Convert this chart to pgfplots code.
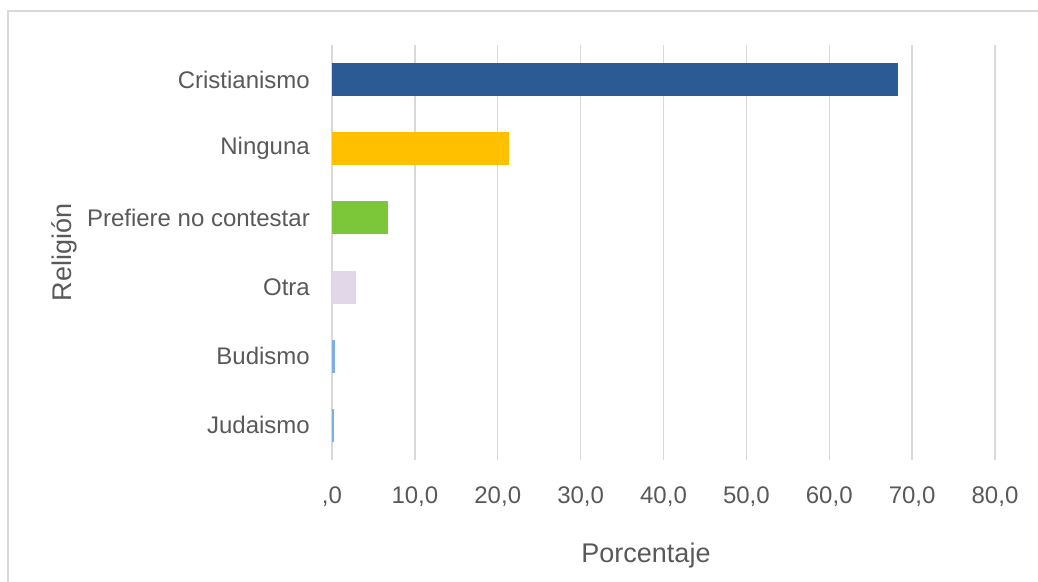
\documentclass[border=0pt]{standalone}
\usepackage{fontspec}
\setmainfont{Liberation Sans}
\usepackage{pgfplots}
\pgfplotsset{compat=1.18}
\definecolor{cCris}{HTML}{2C5A94}
\definecolor{cNing}{HTML}{FFC000}
\definecolor{cPref}{HTML}{7BC739}
\definecolor{cOtra}{HTML}{E2D7E8}
\definecolor{cBud}{HTML}{7DAEE6}
\definecolor{textgray}{HTML}{595959}
\definecolor{gridgray}{HTML}{D9D9D9}
\begin{document}
\begin{tikzpicture}[x=1pt,y=1pt]
\useasboundingbox (0,0) rectangle (1038,581);
\draw[color=gridgray, line width=1.5pt] (8,-5) -- (8,570) -- (1045,570);
\begin{axis}[
  at={(332pt,121pt)}, anchor=south west,
  scale only axis, width=663pt, height=415pt,
  xmin=0, xmax=80, ymin=-0.5, ymax=5.5,
  xbar, bar width=33pt,
  axis line style={draw=none},
  major tick length=0pt,
  xtick={0,10,...,80},
  xticklabels={{,0},{10,0},{20,0},{30,0},{40,0},{50,0},{60,0},{70,0},{80,0}},
  ytick={0,1,2,3,4,5},
  yticklabels={Judaismo,Budismo,Otra,Prefiere no contestar,Ninguna,Cristianismo},
  xmajorgrids, ymajorgrids=false,
  grid style={gridgray, line width=1.3pt},
  tick label style={font=\fontsize{24}{28}\selectfont, text=textgray},
  xticklabel style={anchor=center, yshift=-37pt},
  yticklabel style={anchor=east, inner sep=0pt, xshift=-22pt},
  xlabel={Porcentaje}, ylabel={Religión},
  every axis x label/.style={at={(axis description cs:0.4736,-0.231)}, anchor=center, font=\fontsize{27}{31}\selectfont, text=textgray},
  every axis y label/.style={at={(axis description cs:-0.404,0.5)}, rotate=90, anchor=center, font=\fontsize{27}{31}\selectfont, text=textgray},
]
\addplot[fill=cCris, draw=none, bar shift=0pt] coordinates {(68.3,5)};
\addplot[fill=cNing, draw=none, bar shift=0pt] coordinates {(21.4,4)};
\addplot[fill=cPref, draw=none, bar shift=0pt] coordinates {(6.8,3)};
\addplot[fill=cOtra, draw=none, bar shift=0pt] coordinates {(2.9,2)};
\addplot[fill=cBud, draw=none, bar shift=0pt] coordinates {(0.35,1)};
\addplot[fill=cBud, draw=none, bar shift=0pt] coordinates {(0.3,0)};
\end{axis}
\end{tikzpicture}
\end{document}
